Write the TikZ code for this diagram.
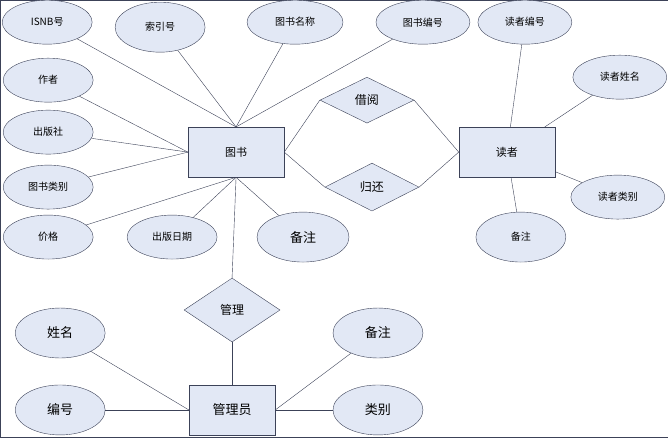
\documentclass[tikz,border=0pt]{standalone}
\usepackage{fontspec}
\newfontfamily\cjk{Noto Sans CJK SC}
\usetikzlibrary{shapes.geometric}
\definecolor{fillc}{HTML}{E2E8F5}
\definecolor{linec}{HTML}{3C4258}
\begin{document}
\begin{tikzpicture}[x=1pt,y=-1pt,
 attr/.style={ellipse,draw=linec,fill=fillc,minimum width=90pt,minimum height=44pt,inner sep=0pt,font=\cjk\fontsize{10}{12}\selectfont},
 attrb/.style={attr,minimum width=92pt,minimum height=50pt,font=\cjk\fontsize{13}{15}\selectfont},
 ent/.style={rectangle,draw=linec,fill=fillc,minimum width=96pt,minimum height=50pt,font=\cjk\fontsize{11}{13}\selectfont},
 rel/.style={diamond,draw=linec,fill=fillc,aspect=2,inner sep=0pt,font=\cjk\fontsize{12}{14}\selectfont},
 every path/.style={draw=linec}]
\useasboundingbox (0,0) rectangle (668,437);
\node[attr] (isbn) at (47,22) {ISNB号};
\node[attr,minimum height=50pt] (syh) at (160,27) {索引号};
\node[attr,minimum width=96pt] (tsmc) at (295,22) {图书名称};
\node[attr,minimum width=94pt] (tsbh) at (423,22) {图书编号};
\node[attr,minimum width=94pt] (dzbh) at (525,22) {读者编号};
\node[attr] (zz) at (48,80) {作者};
\node[attr] (cbs) at (48,132) {出版社};
\node[attr] (tslb) at (48,187) {图书类别};
\node[attr] (jg) at (48,237) {价格};
\node[attr] (cbrq) at (172,237) {出版日期};
\node[attrb] (bz1) at (303,237) {备注};
\node[attr,minimum width=94pt] (dzxm) at (620,77) {读者姓名};
\node[attr,minimum width=94pt] (dzlb) at (618,197) {读者类别};
\node[attr,minimum height=50pt] (bz2) at (521,237) {备注};
\node[attrb,minimum width=90pt] (xm) at (60,333) {姓名};
\node[attrb,minimum width=90pt] (bh) at (60,410) {编号};
\node[attrb,minimum width=90pt] (bz3) at (378,333) {备注};
\node[attrb,minimum width=90pt] (lb) at (378,410) {类别};
\node[ent] (ts) at (236,152) {图书};
\node[ent] (dz) at (507,152) {读者};
\node[ent,minimum width=86pt,font=\cjk\fontsize{13}{15}\selectfont] (gly) at (232,410) {管理员};
\node[rel,minimum width=94pt,minimum height=46pt] (jy) at (367,100) {借阅};
\node[rel,minimum width=94pt,minimum height=48pt] (gh) at (372,187) {归还};
\node[rel,minimum width=96pt,minimum height=64pt] (gl) at (232,310) {管理};
\foreach \a in {isbn,syh,tsmc,tsbh} \draw (\a) -- (ts.north);
\foreach \a in {zz,cbs,tslb} \draw (\a) -- (ts.west);
\foreach \a in {jg,cbrq,bz1} \draw (\a) -- (ts.south);
\foreach \a in {dzbh,dzxm,dzlb,bz2} \draw (\a) -- (dz);
\draw (ts.east) -- (jy.west); \draw (jy.east) -- (dz.west);
\draw (ts.east) -- (gh.west); \draw (gh.east) -- (dz.west);
\draw (ts.south) -- (gl.north); \draw (gl.south) -- (gly.north);
\draw (xm) -- (gly.west); \draw (bh) -- (gly.west);
\draw (bz3) -- (gly.east); \draw (lb) -- (gly.east);
\end{tikzpicture}
\end{document}
